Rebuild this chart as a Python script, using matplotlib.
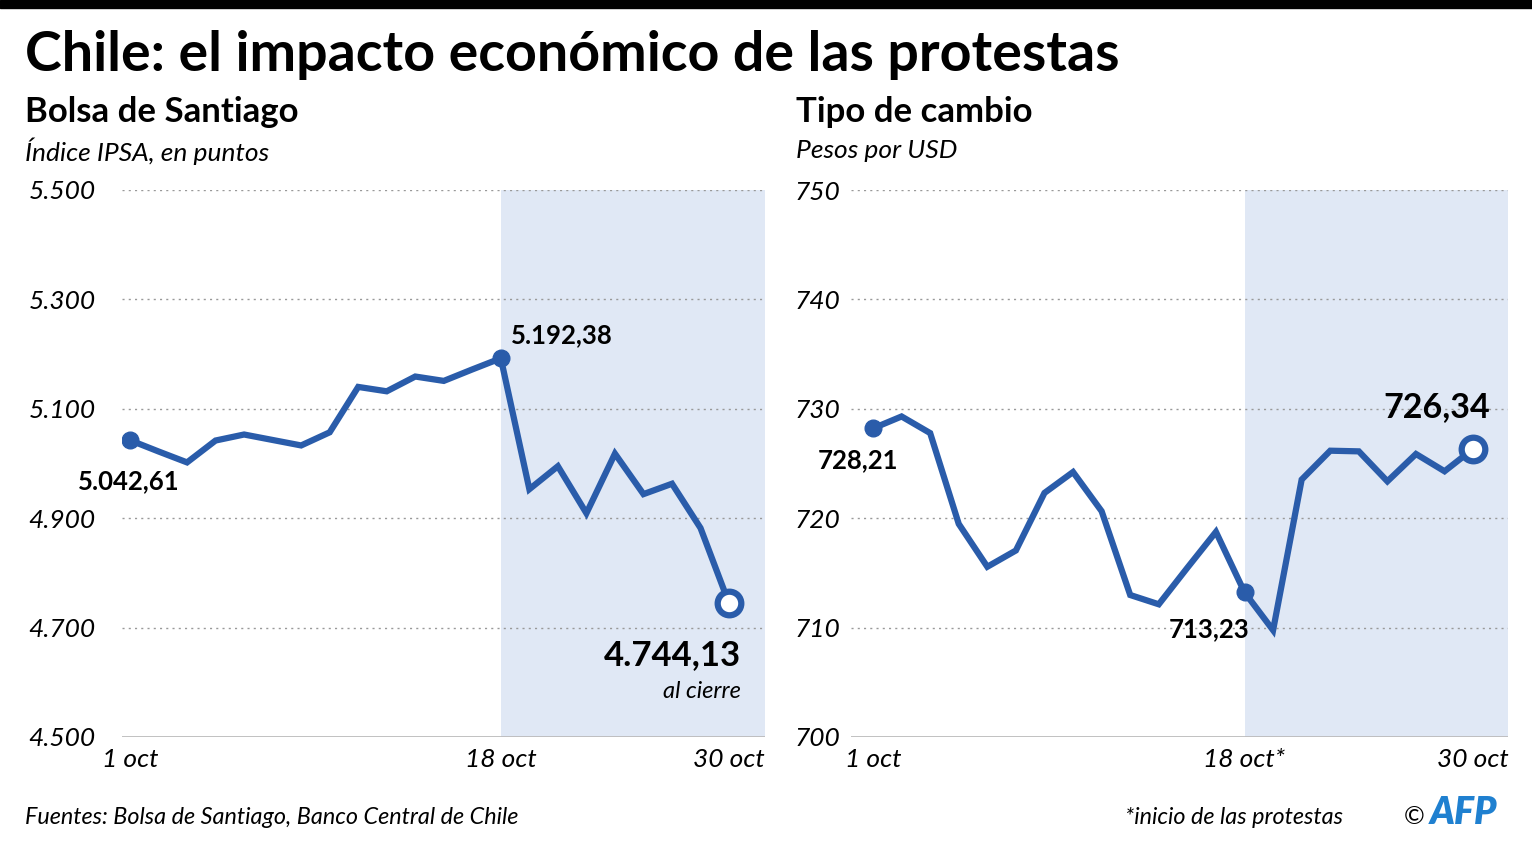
import matplotlib
matplotlib.use("Agg")
import matplotlib.pyplot as plt
from matplotlib.patches import Rectangle

# Datos (días hábiles, 1 al 30 de octubre 2019)
dias = list(range(22))
ipsa = [5042.61, 5022, 5002, 5042, 5053, 5043, 5033, 5057, 5140, 5132, 5159,
        5151, 5172, 5192.38, 4953, 4995, 4909, 5018, 4944, 4963, 4882, 4744.13]
dolar = [728.21, 729.30, 727.78, 719.48, 715.56, 717.05, 722.31, 724.22, 720.64,
         712.98, 712.13, 715.47, 718.75, 713.23, 709.76, 723.53, 726.17, 726.11,
         723.37, 725.87, 724.29, 726.34]
etiquetas_x_ipsa = ["1 oct", "18 oct", "30 oct"]
etiquetas_x_dolar = ["1 oct", "18 oct*", "30 oct"]
pos_etiquetas = [0, 13, 21]
inicio_protestas = 13

ticks_ipsa = [4500, 4700, 4900, 5100, 5300, 5500]
ticks_ipsa_txt = ["4.500", "4.700", "4.900", "5.100", "5.300", "5.500"]
ticks_dolar = [700, 710, 720, 730, 740, 750]

AZUL = "#2a5caa"
SOMBRA = "#e0e8f5"
FUENTE = "Lato"
PX = 0.72  # px -> puntos a 100 dpi

plt.rcParams['font.family'] = [FUENTE, 'DejaVu Sans']

fig = plt.figure(figsize=(15.32, 8.52), dpi=100)

# barra negra superior
fig.patches.append(Rectangle((0, 1 - 8 / 852), 1, 8 / 852, transform=fig.transFigure,
                             color="black", zorder=5))

fig.text(25 / 1532, 1 - 55 / 852, "Chile: el impacto económico de las protestas",
         fontsize=40, fontweight="bold", va="center", ha="left")


def panel(ax, datos, xlim, ylim, yticks, ytxt, xlabels, titulo, subtitulo, tx, pad):
    ax.set_xlim(*xlim)
    ax.set_ylim(*ylim)
    ax.axvspan(inicio_protestas, xlim[1], color=SOMBRA, zorder=0, lw=0)
    for v in yticks[1:]:
        ax.axhline(v, color="#999999", lw=1, ls=(0, (1.5, 3)), zorder=1)
    ax.axhline(yticks[0], color="#bbbbbb", lw=2, zorder=2)
    ax.plot(dias, datos, color=AZUL, lw=4.5, zorder=3, solid_joinstyle="miter")
    for s in ax.spines.values():
        s.set_visible(False)
    ax.set_yticks(yticks)
    ax.set_yticklabels(ytxt, fontsize=19, fontstyle="italic")
    ax.tick_params(axis="y", length=0, pad=pad)
    ax.set_xticks(pos_etiquetas)
    ax.set_xticklabels(xlabels, fontsize=19, fontstyle="italic")
    ax.tick_params(axis="x", length=0, pad=8)
    fig.text(tx, 1 - 112 / 852, titulo, fontsize=25, fontweight="bold", va="center")
    fig.text(tx, 1 - 151 / 852, subtitulo, fontsize=19, fontstyle="italic", va="center")


ax1 = fig.add_axes([122 / 1532, 1 - 737 / 852, 643 / 1532, 547 / 852])
panel(ax1, ipsa, (-0.28, 22.26), (4500, 5500), ticks_ipsa, ticks_ipsa_txt, etiquetas_x_ipsa,
      "Bolsa de Santiago", "Índice IPSA, en puntos", 25 / 1532, 19)

ax2 = fig.add_axes([851 / 1532, 1 - 737 / 852, 657 / 1532, 547 / 852])
panel(ax2, dolar, (-0.77, 22.22), (700, 750), ticks_dolar, [str(t) for t in ticks_dolar],
      etiquetas_x_dolar, "Tipo de cambio", "Pesos por USD", 796 / 1532, 8)

# marcadores
for ax, datos in ((ax1, ipsa), (ax2, dolar)):
    ax.plot([0, inicio_protestas], [datos[0], datos[inicio_protestas]], "o",
            color=AZUL, ms=12, zorder=4)
    ax.plot([21], [datos[21]], "o", mfc="white", mec=AZUL, mew=4.5, ms=17, zorder=4)


def fmt(v):
    s = f"{v:,.2f}"
    return s.replace(",", "X").replace(".", ",").replace("X", ".")


def nota(ax, x, y, texto, dx, dy, ha, size, **kw):
    ax.annotate(texto, (x, y), xytext=(dx * PX, dy * PX), textcoords="offset points",
                ha=ha, va="center", fontsize=size, **kw)


# anotaciones bolsa
nota(ax1, 0, ipsa[0], fmt(ipsa[0]), -1, -41, "center", 18.5, fontweight="bold")
nota(ax1, 13, ipsa[13], fmt(ipsa[13]), 10, 23, "left", 18.5, fontweight="bold")
nota(ax1, 21, ipsa[21], fmt(ipsa[21]), 12, -52, "right", 25, fontweight="bold")
nota(ax1, 21, ipsa[21], "al cierre", 12, -88, "right", 17, fontstyle="italic")

# anotaciones dólar
nota(ax2, 0, dolar[0], fmt(dolar[0]), -15, -32, "center", 18.5, fontweight="bold")
nota(ax2, 13, dolar[13], fmt(dolar[13]), -35, -37, "center", 18.5, fontweight="bold")
nota(ax2, 21, dolar[21], fmt(dolar[21]), -36, 42, "center", 24.5, fontweight="bold")

# pie
fig.text(25 / 1532, 1 - 818 / 852, "Fuentes: Bolsa de Santiago, Banco Central de Chile",
         fontsize=16.8, fontstyle="italic", va="center")
fig.text(1343 / 1532, 1 - 818 / 852, "*inicio de las protestas",
         fontsize=16.8, fontstyle="italic", va="center", ha="right")
fig.text(1404 / 1532, 1 - 816 / 852, "©", fontsize=18, va="center", ha="left")
fig.text(1430 / 1532, 1 - 813 / 852, "AFP", fontsize=27, fontweight="heavy",
         fontstyle="italic", color="#1f80d0", va="center", ha="left")

fig.savefig("out.png", dpi=100)
